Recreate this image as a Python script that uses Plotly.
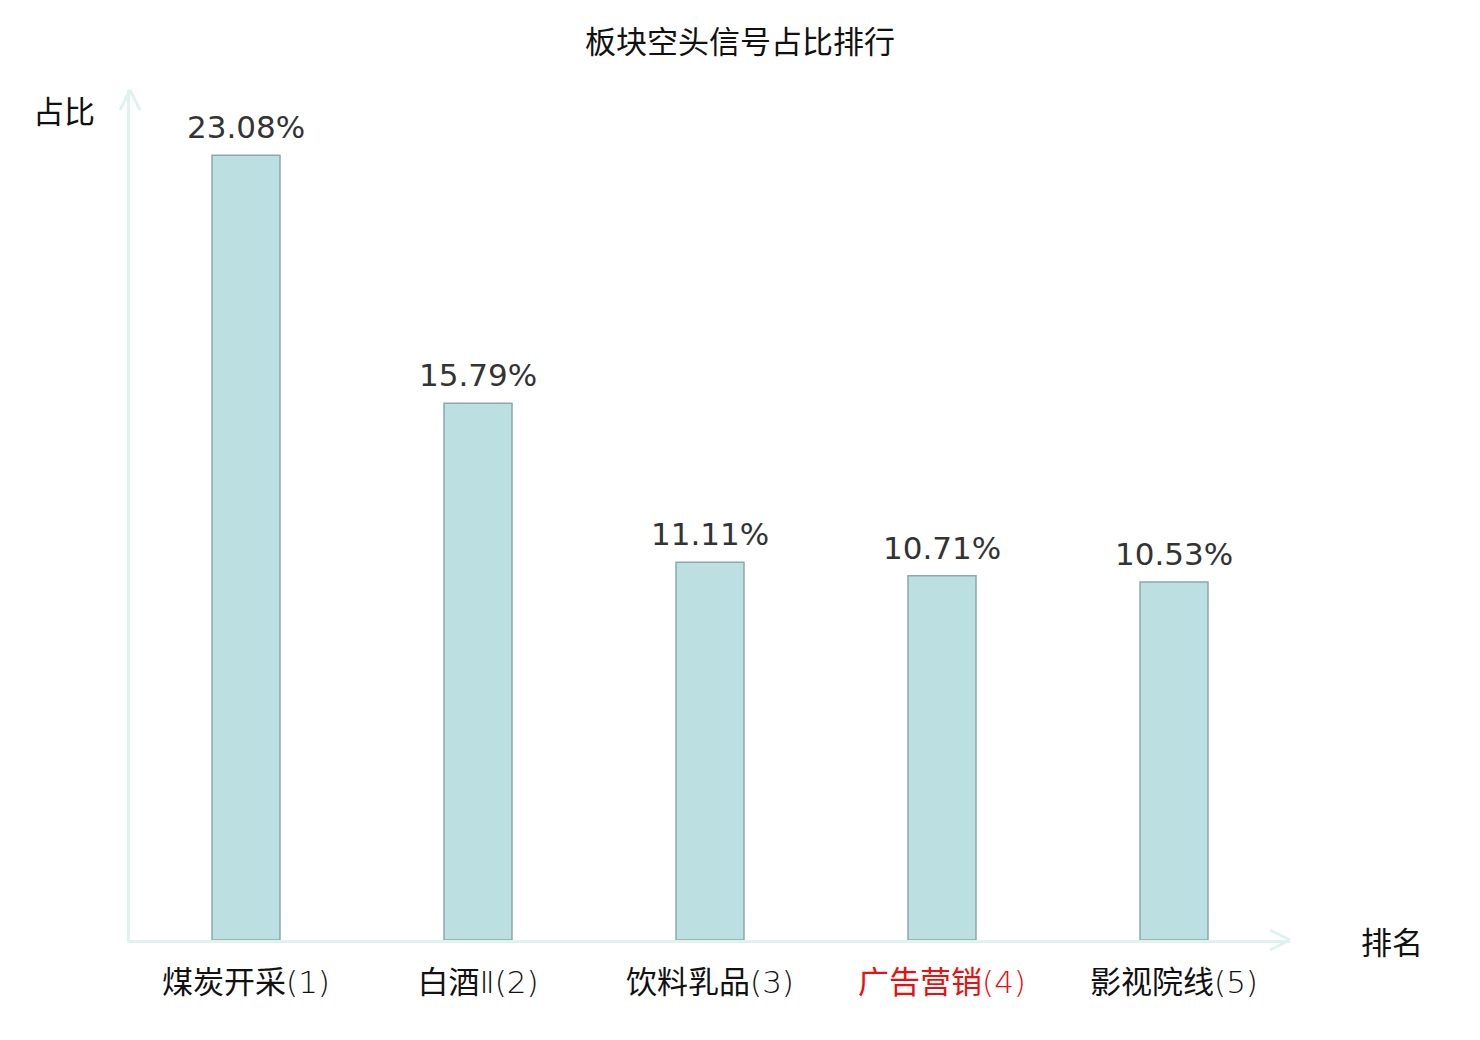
import plotly.graph_objects as go

# data
sectors = ["煤炭开采", "白酒Ⅱ", "饮料乳品", "广告营销", "影视院线"]
ranks = [1, 2, 3, 4, 5]
ratios = [23.08, 15.79, 11.11, 10.71, 10.53]
highlight = "广告营销"

axis_color = "#dff2ef"
cjk = "Noto Sans CJK SC, DejaVu Sans, sans-serif"
tickfam = "DejaVu Sans, Noto Sans CJK SC, sans-serif"


def light(s):
    # latin bits (roman numeral, rank in brackets) are drawn thin in the original
    return '<span style="font-weight:200">' + s + "</span>"


ticktext = []
for name, r in zip(sectors, ranks):
    core = name.rstrip("Ⅱ")
    label = core + light(name[len(core):] + "(%d)" % r)
    if name == highlight:
        label = '<span style="color:#e8110f">' + label + "</span>"
    ticktext.append(label)

xs = list(range(len(sectors)))

fig = go.Figure()
fig.add_trace(go.Bar(
    x=xs,
    y=ratios,
    width=0.293,
    marker=dict(color="#bce0e2", line=dict(color="#8ca8a8", width=1.5)),
    hoverinfo="skip",
))

# value labels above the bars
for x, v in zip(xs, ratios):
    fig.add_annotation(x=x, y=v, text="%.2f%%" % v, showarrow=False,
                       xanchor="center", yanchor="bottom", yshift=8,
                       font=dict(family="DejaVu Sans, sans-serif", size=31, color="#333333"))

fig.update_layout(
    width=1480, height=1040,
    margin=dict(l=122, r=198, t=82, b=108),
    plot_bgcolor="white", paper_bgcolor="white",
    showlegend=False,
    title=dict(text="板块空头信号占比排行", xref="container", x=0.4946, xanchor="center",
               yref="container", y=1 - 34 / 1040, yanchor="middle",
               font=dict(family=cjk, size=31, color="#111111")),
    font=dict(family=cjk),
    xaxis=dict(range=[-0.5, 4.5], tickvals=xs, ticktext=ticktext,
               showgrid=False, zeroline=False, showline=True, linecolor=axis_color, linewidth=3,
               ticks="", ticklabelstandoff=13,
               tickfont=dict(family=tickfam, size=31, color="#111111")),
    yaxis=dict(range=[0, 25], showgrid=False, zeroline=False, showline=True,
               linecolor=axis_color, linewidth=3, showticklabels=False, ticks=""),
)

# arrow heads at the ends of the axes
arrow = dict(type="line", xref="paper", yref="paper", line=dict(color=axis_color, width=3))
fig.add_shape(arrow, x0=0, y0=1, x1=-0.0086, y1=0.9765)
fig.add_shape(arrow, x0=0, y0=1, x1=0.0086, y1=0.9765)
fig.add_shape(arrow, x0=1, y0=0, x1=0.9828, y1=0.0118)
fig.add_shape(arrow, x0=1, y0=0, x1=0.9828, y1=-0.0118)

fig.add_annotation(text="占比", xref="paper", yref="paper", x=-0.0569, y=0.9765,
                   xanchor="center", yanchor="middle",
                   showarrow=False, font=dict(family=cjk, size=31, color="#111111"))
fig.add_annotation(text="排名", xref="paper", yref="paper", x=1.0879, y=-0.001,
                   xanchor="center", yanchor="middle",
                   showarrow=False, font=dict(family=cjk, size=31, color="#111111"))

fig.write_html("out.html")
